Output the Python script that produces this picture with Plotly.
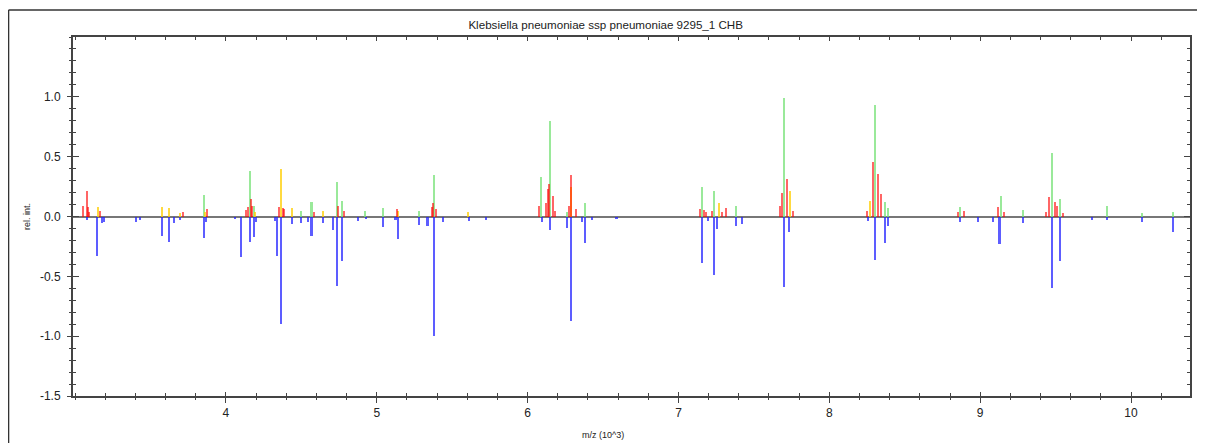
import plotly.graph_objects as go

# ---- data (m/z in 10^3, relative intensity) ----
red_mz = [3.053, 3.079, 3.086, 3.092, 3.163, 3.715, 3.876, 4.135, 4.143, 4.166, 4.174, 4.349, 4.377, 4.384,
          4.581, 4.740, 4.781, 5.137, 5.364, 5.371, 5.393, 6.075, 6.119, 6.132, 6.139, 6.168, 6.181, 6.272,
          6.285, 6.318, 7.141, 7.170, 7.180, 7.225, 7.289, 7.318, 7.675, 7.689, 7.717, 7.762, 8.247, 8.289,
          8.320, 8.340, 8.854, 8.890, 9.119, 9.157, 9.437, 9.459, 9.495, 9.508, 9.550]
red_int = [0.09, 0.21, 0.08, 0.04, 0.05, 0.04, 0.06, 0.055, 0.08, 0.15, 0.09, 0.08, 0.07, 0.06,
           0.04, 0.09, 0.045, 0.06, 0.08, 0.11, 0.06, 0.085, 0.11, 0.23, 0.27, 0.17, 0.05, 0.085,
           0.345, 0.06, 0.06, 0.055, 0.035, 0.05, 0.035, 0.07, 0.085, 0.20, 0.31, 0.045, 0.05, 0.455,
           0.355, 0.19, 0.04, 0.047, 0.08, 0.04, 0.04, 0.165, 0.12, 0.09, 0.03]

green_mz = [3.854, 4.159, 4.185, 4.497, 4.567, 4.737, 4.770, 4.921, 5.040, 5.278, 5.377, 6.091, 6.148,
            6.258, 6.380, 7.154, 7.238, 7.380, 7.697, 8.305, 8.369, 8.389, 8.868, 9.135, 9.285, 9.475,
            9.530, 9.839, 10.073, 10.278]
green_int = [0.18, 0.38, 0.09, 0.05, 0.12, 0.285, 0.13, 0.05, 0.07, 0.045, 0.345, 0.33, 0.80,
             0.035, 0.11, 0.25, 0.215, 0.085, 0.99, 0.93, 0.12, 0.07, 0.08, 0.175, 0.055, 0.53,
             0.145, 0.085, 0.03, 0.04]

yellow_mz = [3.150, 3.578, 3.623, 3.693, 3.858, 4.190, 4.364, 4.439, 4.644, 5.143, 5.605, 6.290, 7.267,
             7.739, 8.270]
yellow_int = [0.08, 0.08, 0.07, 0.03, 0.04, 0.035, 0.40, 0.07, 0.05, 0.05, 0.04, 0.25, 0.11,
              0.21, 0.13]

blue_mz = [3.079, 3.148, 3.179, 3.190, 3.402, 3.432, 3.578, 3.623, 3.658, 3.693, 3.854, 3.870, 4.060,
           4.101, 4.159, 4.185, 4.198, 4.327, 4.340, 4.364, 4.439, 4.497, 4.545, 4.567, 4.644, 4.709,
           4.737, 4.770, 4.876, 4.927, 5.040, 5.124, 5.143, 5.278, 5.336, 5.377, 5.442, 5.610, 5.722,
           6.097, 6.146, 6.258, 6.287, 6.358, 6.380, 6.428, 6.589, 7.154, 7.197, 7.238, 7.254, 7.380,
           7.422, 7.697, 7.733, 8.257, 8.305, 8.369, 8.389, 8.868, 8.987, 9.086, 9.128, 9.285, 9.475,
           9.530, 9.740, 9.839, 10.073, 10.278]
blue_int = [-0.033, -0.33, -0.055, -0.045, -0.047, -0.03, -0.16, -0.21, -0.055, -0.03, -0.18, -0.05, -0.02,
            -0.34, -0.21, -0.175, -0.045, -0.04, -0.33, -0.90, -0.064, -0.055, -0.045, -0.166, -0.055, -0.11,
            -0.58, -0.37, -0.04, -0.025, -0.09, -0.033, -0.185, -0.07, -0.08, -1.0, -0.047, -0.04, -0.03,
            -0.047, -0.11, -0.097, -0.87, -0.047, -0.22, -0.033, -0.022, -0.39, -0.04, -0.49, -0.105, -0.08,
            -0.064, -0.585, -0.133, -0.04, -0.36, -0.22, -0.078, -0.047, -0.047, -0.047, -0.23, -0.055, -0.60,
            -0.37, -0.03, -0.03, -0.05, -0.133]

x_ticks = [4, 5, 6, 7, 8, 9, 10]
y_ticks = [-1.5, -1.0, -0.5, 0.0, 0.5, 1.0]
y_ticklabels = ["-1.5", "-1.0", "-0.5", "0.0", "0.5", "1.0"]

title_text = "Klebsiella pneumoniae ssp pneumoniae 9295_1 CHB"
x_title = "m/z (10^3)"
y_title = "rel. int."

X_RANGE = [2.986, 10.391]
Y_RANGE = [-1.5, 1.5]
BAR_W = 0.0135
FONT = "Liberation Sans, Arial, sans-serif"

fig = go.Figure()

series = [
    (blue_mz, blue_int, "rgba(30,30,255,0.72)"),
    (green_mz, green_int, "rgba(120,225,120,0.75)"),
    (yellow_mz, yellow_int, "rgba(255,205,0,0.75)"),
    (red_mz, red_int, "rgba(255,0,0,0.6)"),
]
for xs, ys, col in series:
    fig.add_trace(go.Bar(x=xs, y=ys, width=BAR_W, marker=dict(color=col, line=dict(width=0)),
                         showlegend=False, hoverinfo="x+y"))

# invisible trace to activate the secondary (outside-tick) axes
fig.add_trace(go.Scatter(x=[X_RANGE[0]], y=[0], xaxis="x2", yaxis="y2", mode="markers",
                         marker=dict(opacity=0), showlegend=False, hoverinfo="skip"))

# page body has an 8px default margin -> compensate in the figure margins
L, T, PW, PH = 65, 29, 1117, 359
axis_col = "#444444"
fig.update_layout(
    width=1205, height=443,
    margin=dict(l=L, r=1205 - L - PW, t=T, b=443 - T - PH, autoexpand=False),
    paper_bgcolor="white", plot_bgcolor="white",
    barmode="overlay", bargap=0,
    font=dict(family=FONT, size=12, color="#222222"),
    title=dict(text=title_text, x=0.496, xref="container", xanchor="center", y=1 - 17 / 443,
               yanchor="middle", font=dict(size=11.6, family=FONT, color="#222222")),
    xaxis=dict(range=X_RANGE, tickvals=x_ticks, ticktext=[str(v) for v in x_ticks],
               ticks="inside", ticklen=4, tickwidth=1, tickcolor=axis_col,
               minor=dict(dtick=0.2, tick0=3.0, ticks="inside", ticklen=3, tickcolor=axis_col),
               showline=True, linecolor=axis_col, linewidth=2, mirror="ticks",
               showgrid=False, zeroline=False, automargin=False, ticklabelstandoff=5,
               tickfont=dict(size=12, family=FONT, color="#222222")),
    xaxis2=dict(range=X_RANGE, overlaying="x", side="bottom", anchor="y",
                tickvals=x_ticks, showticklabels=False, automargin=False,
                ticks="outside", ticklen=6, tickwidth=1, tickcolor=axis_col,
                minor=dict(dtick=0.2, tick0=3.0, ticks="outside", ticklen=3, tickcolor=axis_col),
                showline=False, showgrid=False, zeroline=False),
    yaxis=dict(range=Y_RANGE, tickvals=y_ticks, ticktext=y_ticklabels,
               ticks="inside", ticklen=6, tickwidth=1, tickcolor=axis_col,
               minor=dict(dtick=0.1, tick0=0, ticks="inside", ticklen=3, tickcolor=axis_col),
               showline=True, linecolor=axis_col, linewidth=2, mirror="ticks",
               showgrid=False, zeroline=True, zerolinecolor="#777777", zerolinewidth=2,
               automargin=False, ticklabelstandoff=8,
               tickfont=dict(size=12, family=FONT, color="#222222"),
               title=dict(text=y_title, font=dict(size=9, family=FONT), standoff=8)),
    yaxis2=dict(range=Y_RANGE, overlaying="y", side="left", anchor="x",
                tickvals=y_ticks, showticklabels=False, automargin=False,
                ticks="outside", ticklen=5, tickwidth=1, tickcolor=axis_col,
                minor=dict(dtick=0.1, tick0=0, ticks="outside", ticklen=3, tickcolor=axis_col),
                showline=False, showgrid=False, zeroline=False),
    annotations=[
        dict(text=x_title, xref="paper", yref="paper", x=(603 - 8 - L) / PW, y=(T + PH - 427) / PH,
             xanchor="center", yanchor="middle", showarrow=False,
             font=dict(size=9, family=FONT, color="#222222")),
    ],
    shapes=[
        dict(type="line", xref="paper", yref="paper", x0=-0.0577, x1=1.0098, y0=1.0752, y1=1.0752,
             line=dict(color="#333333", width=1.5)),
        dict(type="line", xref="paper", yref="paper", x0=-0.0577, x1=-0.0577, y0=1.0752, y1=-0.2,
             line=dict(color="#333333", width=1.5)),
        dict(type="line", xref="paper", yref="paper", x0=1.0098, x1=1.0098, y0=1.0752, y1=-0.2,
             line=dict(color="#333333", width=1.5)),
    ],
)

fig.write_html("out.html")
